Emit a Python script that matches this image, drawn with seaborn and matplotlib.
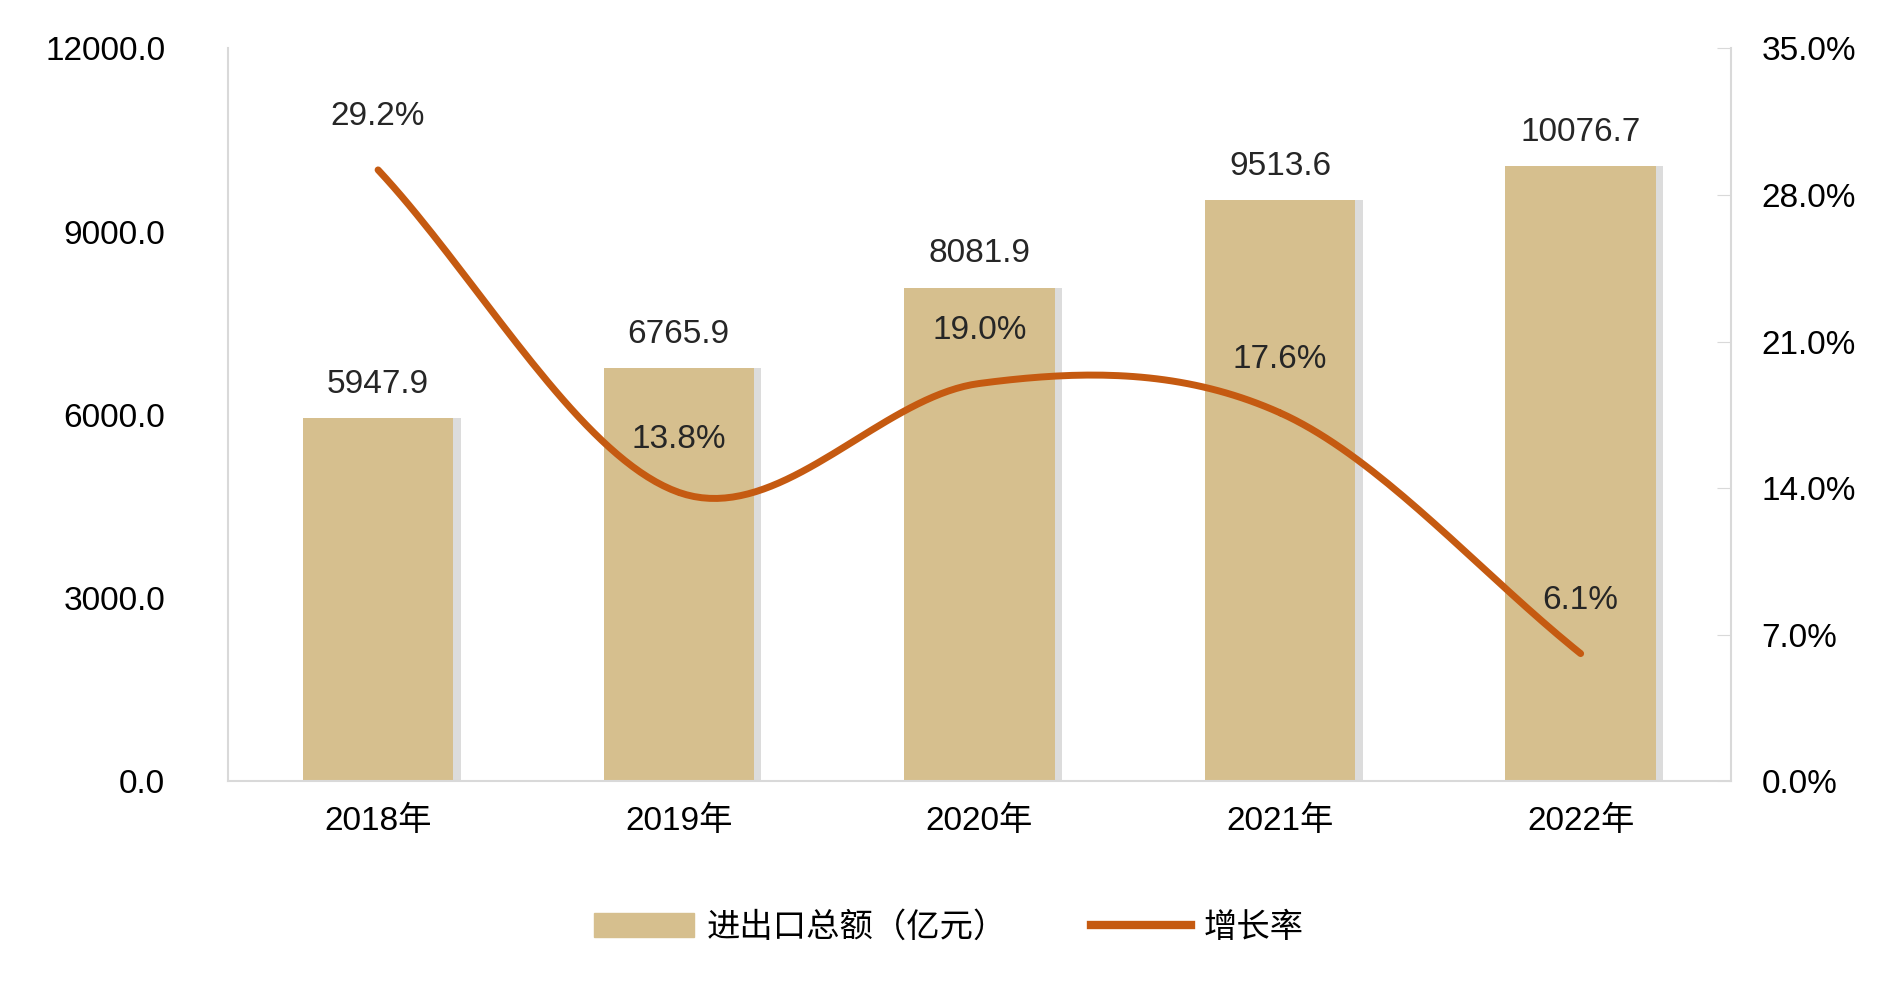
import matplotlib
matplotlib.use("Agg")
import matplotlib.pyplot as plt
import seaborn as sns
import numpy as np
import pandas as pd
from matplotlib.lines import Line2D
from matplotlib.patches import Patch

years = ["2018年", "2019年", "2020年", "2021年", "2022年"]
totals = [5947.9, 6765.9, 8081.9, 9513.6, 10076.7]
growth = [29.2, 13.8, 19.0, 17.6, 6.1]
left_ticks = [0, 3000, 6000, 9000, 12000]
right_ticks = [0, 7, 14, 21, 28, 35]

plt.rcParams["font.family"] = ["Liberation Sans", "Noto Sans CJK SC"]
bar_c = "#D6BF8E"
line_c = "#C55A11"
fs = 24

fig = plt.figure(figsize=(18.98, 9.89), dpi=100)
ax = fig.add_axes([0.120, 0.210, 0.792, 0.741])
df = pd.DataFrame({"year": years, "total": totals})
x = np.arange(len(years))
ax.bar(x + 0.025, totals, width=0.5, color="#bbbbbb", alpha=0.5, zorder=1)
sns.barplot(data=df, x="year", y="total", color=bar_c, width=0.5, saturation=1, ax=ax, zorder=2)
ax.set_ylim(0, 12000)
ax.set_xlim(-0.5, 4.5)
ax.set_yticks(left_ticks)
ax.set_yticklabels([f"{v:.1f}" for v in left_ticks], fontsize=fs)
ax.set_xlabel(""); ax.set_ylabel("")
ax.tick_params(axis="x", labelsize=fs, length=0, pad=18)
ax.tick_params(axis="y", length=0, pad=45)
for s in ["top", "right"]:
    ax.spines[s].set_visible(False)
ax.spines["left"].set_color("#D9D9D9")
ax.spines["bottom"].set_color("#D9D9D9")
ax.spines["left"].set_linewidth(1.5); ax.spines["bottom"].set_linewidth(1.5)
for xi, v in zip(x, totals):
    ax.text(xi, v + 300, f"{v:.1f}", ha="center", va="bottom", fontsize=fs, color="#262626")

ax2 = ax.twinx()
ax2.set_ylim(0, 35)
ax2.set_yticks(right_ticks)
ax2.set_yticklabels([f"{v:.1f}%" for v in right_ticks], fontsize=fs)
ax2.tick_params(axis="y", direction="in", length=10, color="#D9D9D9", pad=22)
for s in ["top", "left", "bottom"]:
    ax2.spines[s].set_visible(False)
ax2.spines["right"].set_color("#D9D9D9"); ax2.spines["right"].set_linewidth(1.5)

g = np.array(growth, dtype=float)
px = np.concatenate([[2*x[0]-x[1]], x, [2*x[-1]-x[-2]]]).astype(float)
py = np.concatenate([[2*g[0]-g[1]], g, [2*g[-1]-g[-2]]])
xs, ys = [], []
for i in range(1, len(px)-2):
    t = np.linspace(0, 1, 40)
    for arr, out in ((px, xs), (py, ys)):
        p0, p1, p2, p3 = arr[i-1], arr[i], arr[i+1], arr[i+2]
        out.extend(0.5*((2*p1) + (-p0+p2)*t + (2*p0-5*p1+4*p2-p3)*t**2 + (-p0+3*p1-3*p2+p3)*t**3))
ax2.plot(xs, ys, color=line_c, lw=5, solid_capstyle="round", zorder=3)
for xi, v in zip(x, growth):
    ax2.text(xi, v + 1.8, f"{v:.1f}%", ha="center", va="bottom", fontsize=fs, color="#262626")

handles = [Patch(color=bar_c, label="进出口总额（亿元）"),
           Line2D([0], [0], color=line_c, lw=6, label="增长率")]
fig.legend(handles=handles, loc="center", bbox_to_anchor=(0.5, 0.062), ncol=2,
           frameon=False, fontsize=fs, handlelength=3.0, columnspacing=2.5, handletextpad=0.4)
fig.savefig("out.png", dpi=100, facecolor="white")
